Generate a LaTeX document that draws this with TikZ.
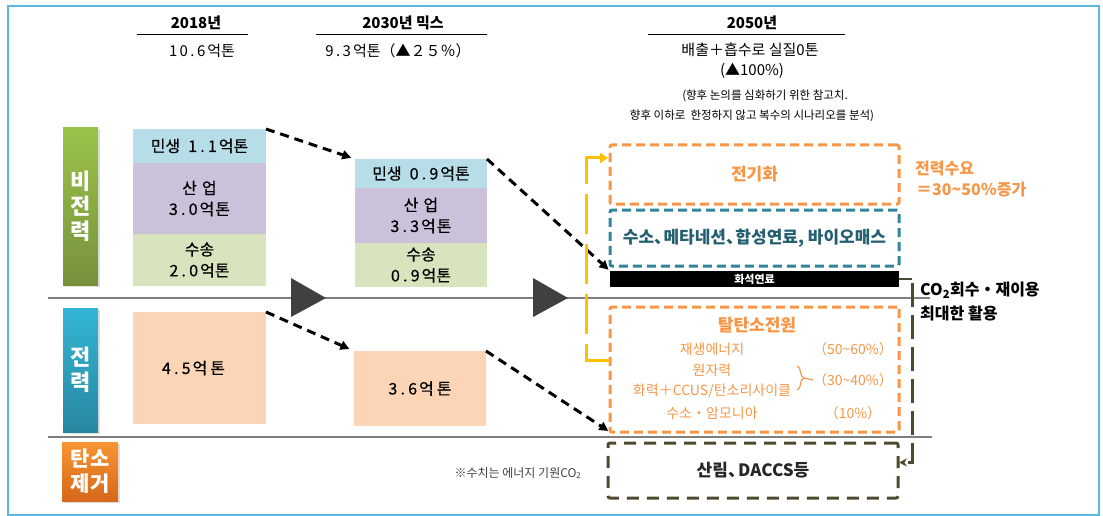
\documentclass[tikz,border=0pt]{standalone}
\usepackage{fontspec}
\setmainfont{Noto Sans CJK KR}
\newfontfamily\kr{Noto Sans CJK KR}
\newfontfamily\krm[FakeBold=0.5]{Noto Sans CJK KR}
\newfontfamily\krd[LetterSpace=20,FakeBold=0.5]{Noto Sans CJK KR}
\newfontfamily\krdl[LetterSpace=16]{Noto Sans CJK KR}
\newcommand{\dg}[1]{{\krd #1}\kern2pt}
\newcommand{\dgl}[1]{{\krdl #1}\kern2pt}
\usetikzlibrary{arrows.meta,calc,decorations.pathreplacing,shadows}
\definecolor{bordercol}{RGB}{91,182,227}
\definecolor{minc}{RGB}{183,222,232}
\definecolor{indc}{RGB}{204,193,218}
\definecolor{trac}{RGB}{215,228,189}
\definecolor{powc}{RGB}{251,213,181}
\definecolor{orc}{RGB}{247,150,70}
\definecolor{tealc}{RGB}{49,132,155}
\definecolor{tealtxt}{RGB}{35,95,112}
\definecolor{olivec}{RGB}{79,74,47}
\definecolor{yelc}{RGB}{255,192,0}
\definecolor{tric}{RGB}{64,64,64}
\definecolor{axisc}{RGB}{127,127,127}
\definecolor{gtop}{RGB}{155,195,74}
\definecolor{gbot}{RGB}{118,146,60}
\definecolor{ttop}{RGB}{51,181,213}
\definecolor{tbot}{RGB}{40,135,160}
\definecolor{otop}{RGB}{247,148,51}
\definecolor{obot}{RGB}{214,104,26}
\tikzset{
  fillbox/.style={anchor=north west, inner sep=0pt, outer sep=0pt, align=center,
    font=\krm\fontsize{16}{21}\selectfont},
  side/.style={anchor=north west, inner sep=0pt, outer sep=0pt, align=center, text=white,
    font=\kr\bfseries\fontsize{22}{25}\selectfont,
    drop shadow={opacity=0.25, shadow xshift=1.5pt, shadow yshift=-1.5pt}},
  dbox/.style={anchor=north west, inner sep=0pt, outer sep=0pt, line width=3pt,
    dash pattern=on 9pt off 5pt, rounded corners=2pt, align=center},
  hdr/.style={inner sep=0pt, font=\kr\bfseries\fontsize{15}{18}\selectfont},
  val/.style={inner sep=0pt, font=\kr\fontsize{15}{18}\selectfont},
  note/.style={inner sep=0pt, font=\kr\fontsize{11.5}{14}\selectfont},
  otxt/.style={inner sep=0pt, text=orc, font=\kr\fontsize{14}{17}\selectfont},
  blkarrow/.style={line width=3pt, dash pattern=on 9pt off 6pt, -{Triangle[length=9pt,width=9pt]}},
  axisline/.style={draw=axisc, line width=1.5pt},
  tri/.style={fill=tric},
  uline/.style={line width=1pt}
}
\begin{document}
\begin{tikzpicture}[x=1pt,y=-1pt]
\useasboundingbox (0,0) rectangle (1103,516);
\draw[bordercol, line width=2pt] (8,6) rectangle (1099,515);

% headers
\node[hdr] (h18) at (196,23) {2018년};
\draw[uline] (137,35) -- (248,35);
\node[val] (v18) at (202,51) {\dgl{10.6}억톤};
\node[hdr] (h30) at (403,23) {2030년 믹스};
\draw[uline] (316,35) -- (487,35);
\node[val] (v30) at (398,51) {\dgl{9.3}억톤（▲２５％）};
\node[hdr] (h50) at (752,23) {2050년};
\draw[uline] (648,35) -- (845,35);
\node[val] (t50a) at (750,50) {배출＋흡수로 실질0톤};
\node[val] (t50b) at (752,71) {(▲100\%)};
\node[note] (t50c) at (765,96) {(향후 논의를 심화하기 위한 참고치.};
\node[note] (t50d) at (752,116) {향후 이하로\ \ 한정하지 않고 복수의 시나리오를 분석)};

% axes
\draw[axisline] (48,298) -- (930,298);
\draw[axisline] (48,437) -- (932,437);
\fill[tri] (291,278) -- (326,298) -- (291,317) -- cycle;
\fill[tri] (533,278) -- (568,298) -- (533,317) -- cycle;

% side labels
\node[side, top color=gtop, bottom color=gbot, minimum width=35pt, minimum height=157pt] (lbl1) at (63,128) {비\\전\\력};
\node[side, top color=ttop, bottom color=tbot, minimum width=35pt, minimum height=124pt] (lbl2) at (63,308) {전\\력};
\node[side, top color=otop, bottom color=obot, minimum width=56pt, minimum height=59pt,
      font=\kr\bfseries\fontsize{21}{25}\selectfont] (lbl3) at (62,442) {탄소\\제거};

% 2018
\node[fillbox, fill=minc, minimum width=133pt, minimum height=34pt] (min18) at (133,129) {민생\hspace{8pt}\dg{1.1}억톤};
\node[fillbox, fill=indc, minimum width=133pt, minimum height=71pt] (ind18) at (133,163) {산\hspace{5pt}업\\\dg{3.0}억\hspace{1pt}톤};
\node[fillbox, fill=trac, minimum width=133pt, minimum height=52pt] (tra18) at (133,234) {수송\\\dg{2.0}억톤};
\node[fillbox, fill=powc, minimum width=133pt, minimum height=112pt] (pow18) at (133,312) {\dg{4.5}억\hspace{3pt}톤\hspace*{12pt}};

% 2030
\node[fillbox, fill=minc, minimum width=132pt, minimum height=29pt] (min30) at (355,159) {민생\hspace{8pt}\dg{0.9}억톤};
\node[fillbox, fill=indc, minimum width=132pt, minimum height=55pt] (ind30) at (355,188) {산\hspace{5pt}업\\\dg{3.3}억\hspace{1pt}톤};
\node[fillbox, fill=trac, minimum width=132pt, minimum height=44pt] (tra30) at (355,243) {수송\\\dg{0.9}억톤};
\node[fillbox, fill=powc, minimum width=132pt, minimum height=75pt] (pow30) at (354,351) {\dg{3.6}억\hspace{3pt}톤};

% 2050
\node[dbox, draw=orc, minimum width=289pt, minimum height=59pt, text=orc,
      font=\kr\bfseries\fontsize{17}{20}\selectfont] (elec) at (610,145) {전기화};
\node[dbox, draw=tealc, minimum width=289pt, minimum height=56pt, text=tealtxt,
      font=\kr\bfseries\fontsize{17}{20}\selectfont] (h2) at (610,210)
      {수소、\kern-0.45em 메타네션、\kern-0.45em 합성연료, 바이오매스};
\node[anchor=north west, inner sep=0pt, outer sep=0pt, fill=black, text=white,
      minimum width=289pt, minimum height=16pt,
      font=\kr\bfseries\fontsize{11}{12}\selectfont] (fossil) at (610,271) {화석연료};
\node[dbox, draw=orc, minimum width=289pt, minimum height=125pt] (decarb) at (610,307) {};
\node[dbox, draw=olivec, minimum width=290pt, minimum height=55pt, dash pattern=on 12pt off 8pt,
      font=\kr\bfseries\fontsize{17}{20}\selectfont, text={rgb,255:red,38;green,38;blue,38}] (forest) at (608,443)
      {산림、\kern-0.4em DACCS등};

% decarb contents
\node[inner sep=0pt, text=orc, font=\kr\bfseries\fontsize{17}{20}\selectfont] (dtitle) at (757,325) {탈탄소전원};
\node[otxt] (r1) at (712,349) {재생에너지};
\node[otxt] (r1p) at (853,349) {（50\textasciitilde 60\%）};
\node[otxt] (r2) at (712,370) {원자력};
\node[otxt] (r3) at (712,391) {화력＋CCUS/탄소리사이클};
\node[otxt] (r23p) at (853,380) {（30\textasciitilde 40\%）};
\node[otxt] (r4) at (712,413) {수소・암모니아};
\node[otxt] (r4p) at (853,413) {（10\%）};
\draw[orc, line width=1.2pt, decorate, decoration={brace, amplitude=7pt}] (797,366) -- (797,390);
\draw[orc, line width=1.2pt] (804,378) -- (r23p.west);

% right side texts
\node[anchor=west, inner sep=0pt, text=orc, font=\kr\bfseries\fontsize{16}{19}\selectfont] (dem1) at (915,169) {전력수요};
\node[anchor=west, inner sep=0pt, text=orc, font=\kr\bfseries\fontsize{16}{19}\selectfont] (dem2) at (916,190) {＝30\textasciitilde 50％증가};
\node[anchor=west, inner sep=0pt, font=\kr\bfseries\fontsize{16}{19}\selectfont] (co2a) at (920,290) {CO\textsubscript{2}회수・재이용};
\node[anchor=west, inner sep=0pt, font=\kr\bfseries\fontsize{16}{19}\selectfont] (co2b) at (920,313) {최대한 활용};
\node[inner sep=0pt, text=tric, font=\kr\fontsize{12}{14}\selectfont] (fn) at (518,473) {※수치는 에너지 기원CO\textsubscript{2}};

% connectors
\draw[blkarrow, shorten >=4pt] (min18.north east) -- (min30.north west);
\draw[blkarrow, shorten >=2pt] (min30.north east) -- (fossil.north west);
\draw[blkarrow, shorten >=5pt] (pow18.north east) -- (pow30.north west);
\draw[blkarrow, shorten >=2pt] (pow30.north east) -- (decarb.south west);

\draw[yelc, line width=3pt, dash pattern=on 40pt off 10pt, -{Triangle[length=8pt,width=10pt]}]
  ($(decarb.north west)+(0,53)$) -- ++(-24,0) |- ($(elec.north west)+(-2,13)$);

\coordinate (co2top) at (912,283);
\draw[olivec, line width=2pt] (fossil.east) -- (fossil.east -| co2top);
\draw[olivec, line width=3pt, dash pattern=on 24pt off 8pt, -{Stealth[length=8pt,width=8pt]}]
  (co2top) |- ($(forest.east)+(1,-8)$);
\end{tikzpicture}
\end{document}
